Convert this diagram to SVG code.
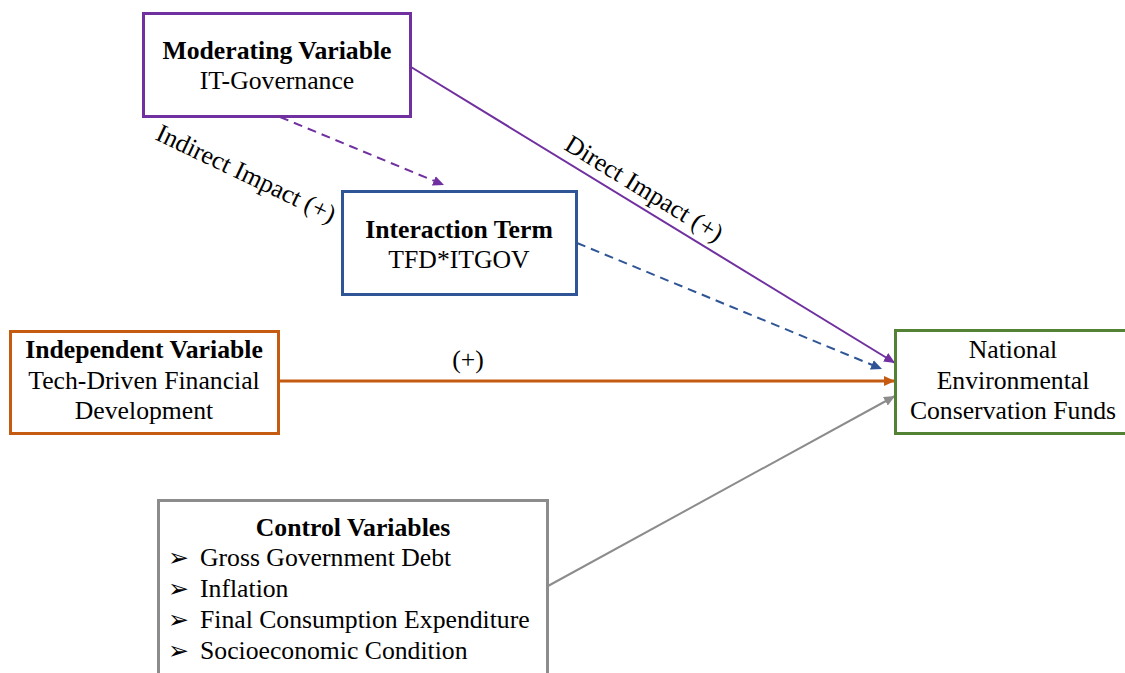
<svg xmlns="http://www.w3.org/2000/svg" width="1125" height="673" viewBox="0 0 1125 673">
<style>
  text { font-family: "Liberation Serif", "Times New Roman", serif; font-size: 25.7px; fill: #000; }
  .b { font-weight: bold; }
  .c { text-anchor: middle; }
  .box { fill: #fff; stroke-width: 3; }
  .bul { font-family: "DejaVu Sans", sans-serif; font-size: 25px; }
</style>
<defs>
  <marker id="aPurple" markerUnits="userSpaceOnUse" markerWidth="12" markerHeight="10" refX="11" refY="5" orient="auto"><path d="M0,0 L11,5 L0,10 Z" fill="#7030A0"/></marker>
  <marker id="aBlue" markerUnits="userSpaceOnUse" markerWidth="12" markerHeight="10" refX="11" refY="5" orient="auto"><path d="M0,0 L11,5 L0,10 Z" fill="#2F5597"/></marker>
  <marker id="aOrange" markerUnits="userSpaceOnUse" markerWidth="12" markerHeight="10" refX="11" refY="5" orient="auto"><path d="M0,0 L11,5 L0,10 Z" fill="#C55A11"/></marker>
  <marker id="aGray" markerUnits="userSpaceOnUse" markerWidth="12" markerHeight="10" refX="11" refY="5" orient="auto"><path d="M0,0 L11,5 L0,10 Z" fill="#8C8C8C"/></marker>
</defs>
<rect width="1125" height="673" fill="#fff"/>
<g id="connectors" fill="none">
  <line x1="411" y1="67" x2="895" y2="363" stroke="#7030A0" stroke-width="2" marker-end="url(#aPurple)"/>
  <line x1="280" y1="117" x2="444" y2="185" stroke="#7030A0" stroke-width="2" stroke-dasharray="9,6" marker-end="url(#aPurple)"/>
  <line x1="577" y1="243" x2="882" y2="369" stroke="#2F5597" stroke-width="2" stroke-dasharray="9,6" marker-end="url(#aBlue)"/>
  <line x1="279" y1="381" x2="895" y2="381" stroke="#C55A11" stroke-width="3" marker-end="url(#aOrange)"/>
  <line x1="548" y1="586" x2="895" y2="396" stroke="#8C8C8C" stroke-width="2" marker-end="url(#aGray)"/>
  <text class="c" x="468" y="368">(+)</text>
  <text class="c" transform="translate(246,174) rotate(25.5)" y="8">Indirect Impact (+)</text>
  <text class="c" transform="translate(644,189) rotate(31.5)" y="8">Direct Impact (+)</text>
</g>
<g id="moderating">
  <rect class="box" x="143.5" y="13.5" width="267" height="103" stroke="#7030A0"/>
  <text class="c b" x="277" y="59">Moderating Variable</text>
  <text class="c" x="277" y="89">IT-Governance</text>
</g>
<g id="interaction">
  <rect class="box" x="342.5" y="191.5" width="234" height="103" stroke="#2F5597"/>
  <text class="c b" x="459" y="238">Interaction Term</text>
  <text class="c" x="459" y="268">TFD*ITGOV</text>
</g>
<g id="independent">
  <rect class="box" x="10.5" y="331.5" width="268" height="102" stroke="#C55A11"/>
  <text class="c b" x="144" y="358">Independent Variable</text>
  <text class="c" x="144" y="389">Tech-Driven Financial</text>
  <text class="c" x="144" y="419">Development</text>
</g>
<g id="national">
  <rect class="box" x="895.5" y="330.5" width="240" height="103" stroke="#548235"/>
  <text class="c" x="1013" y="358">National</text>
  <text class="c" x="1013" y="389">Environmental</text>
  <text class="c" x="1013" y="419">Conservation Funds</text>
</g>
<g id="control">
  <rect class="box" x="158.5" y="500.5" width="389" height="190" stroke="#8C8C8C"/>
  <text class="c b" x="353" y="536">Control Variables</text>
  <text class="bul" x="168" y="566">➢</text>
  <text x="200" y="566">Gross Government Debt</text>
  <text class="bul" x="168" y="597">➢</text>
  <text x="200" y="597">Inflation</text>
  <text class="bul" x="168" y="628">➢</text>
  <text x="200" y="628">Final Consumption Expenditure</text>
  <text class="bul" x="168" y="659">➢</text>
  <text x="200" y="659">Socioeconomic Condition</text>
</g>
</svg>
